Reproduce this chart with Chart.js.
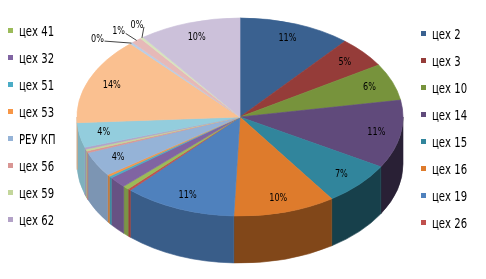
<!DOCTYPE html>
<html>
<head>
<meta charset="utf-8">
<script src="https://cdn.jsdelivr.net/npm/chart.js@4.4.1/dist/chart.umd.min.js"></script>
<style>
  body { margin: 0; background: #fff; }
  #wrap { position: relative; width: 486px; height: 279px; }
  #pie { position: absolute; left: 0; top: 0; }
  .leg { position: absolute; font-family: "DejaVu Sans Condensed", "Liberation Sans Narrow", sans-serif; font-size: 14px; color: #000; }
  .leg div { position: absolute; white-space: nowrap; height: 16px; line-height: 16px; }
  .leg span { display: inline-block; width: 5px; height: 5px; margin-right: 6px; vertical-align: middle; position: relative; top: -1px; }
  .leg i { font-style: normal; display: inline-block; transform: scaleX(0.8); transform-origin: 0 50%; }
</style>
</head>
<body>
<div id="wrap">
  <canvas id="pie" width="486" height="279"></canvas>
  <div class="leg" id="legLeft" style="left:8px; top:0"></div>
  <div class="leg" id="legRight" style="left:421px; top:0"></div>
</div>
<script>
///////////////////////////////// DONNEES

// ordre des secteurs dans le sens horaire depuis midi
const categories = ["цех 2", "цех 3", "цех 10", "цех 14", "цех 15", "цех 16", "цех 19", "цех 26",
                    "цех 41", "цех 32", "цех 51", "цех 53", "РЕУ КП", "цех 56", "цех 59", "цех 62",
                    "цех 63", "цех 64", "цех 65", "цех 66", "цех 67", "цех 68"];
const shares = [11, 5, 6, 11, 7, 10, 11, 0.3,
                0.6, 1.8, 0.3, 0.3, 4, 0.3, 0.3, 0.3,
                4, 14, 0.3, 1, 0.3, 10];
const colors = ["#3A6190", "#953C39", "#77933C", "#604A7B", "#31859C", "#DE7B2C", "#4F81BD", "#C0504D",
                "#9BBB59", "#8064A2", "#4BACC6", "#F79646", "#95B3D7", "#D99694", "#C3D69B", "#B3A2C7",
                "#93CDDD", "#FAC090", "#B9CDE5", "#E6B9B8", "#D7E4BD", "#CCC1DA"];

// secteurs sans étiquette de pourcentage
const noLabel = [7, 8, 9, 10, 11, 13, 14, 15];
// étiquettes placées dehors avec trait de rappel (décalage depuis le bord)
const outside = { 18: [-34, -4], 19: [-18, -9], 20: [-5, -13] };

// légende : 8 à gauche, 8 à droite
const legendLeft = [8, 9, 10, 11, 12, 13, 14, 15];
const legendRight = [0, 1, 2, 3, 4, 5, 6, 7];

///////////////////////////////// GEOMETRIE 3D

const CX = 240, CY = 117, RX = 163, RY = 99, DEPTH = 47;

function shade(hex, k) {
    let r = parseInt(hex.substr(1, 2), 16), g = parseInt(hex.substr(3, 2), 16), b = parseInt(hex.substr(5, 2), 16);
    return "rgb(" + Math.round(r * k) + "," + Math.round(g * k) + "," + Math.round(b * k) + ")";
}

function narrowText(ctx, txt, x, y) {
    ctx.save();
    ctx.translate(x, y);
    ctx.scale(0.82, 1);
    ctx.fillText(txt, 0, 0);
    ctx.restore();
}

const pie3d = {
    id: 'pie3d',
    beforeDatasetsDraw(chart) {
        const ctx = chart.ctx;
        const arcs = chart.getDatasetMeta(0).data;
        //bord visible : demi-ellipse du bas
        arcs.forEach((arc, i) => {
            const s = Math.max(arc.startAngle, 0), e = Math.min(arc.endAngle, Math.PI);
            if (e <= s) return;
            const k = 0.64 - 0.22 * Math.cos((s + e) / 2);
            ctx.beginPath();
            ctx.ellipse(CX, CY, RX, RY, 0, s, e);
            ctx.ellipse(CX, CY + DEPTH, RX, RY, 0, e, s, true);
            ctx.closePath();
            ctx.fillStyle = shade(colors[i], k);
            ctx.strokeStyle = ctx.fillStyle;
            ctx.lineWidth = 0.6;
            ctx.fill();
            ctx.stroke();
        });
        //dessus : le cercle de Chart.js écrasé en ellipse
        const a0 = arcs[0];
        ctx.save();
        ctx.translate(CX, CY);
        ctx.scale(RX / a0.outerRadius, RY / a0.outerRadius);
        ctx.translate(-a0.x, -a0.y);
    },
    afterDatasetsDraw(chart) {
        const ctx = chart.ctx;
        ctx.restore();
        const arcs = chart.getDatasetMeta(0).data;
        const total = shares.reduce((a, b) => a + b, 0);
        ctx.font = '11px "DejaVu Sans Condensed", "Liberation Sans Narrow", sans-serif';
        ctx.fillStyle = "#000";
        ctx.textAlign = "center";
        ctx.textBaseline = "middle";
        arcs.forEach((arc, i) => {
            if (noLabel.includes(i)) return;
            const txt = Math.round(shares[i] / total * 100) + "%";
            const m = (arc.startAngle + arc.endAngle) / 2;
            if (outside[i]) {
                const ex = CX + RX * Math.cos(m), ey = CY + RY * Math.sin(m);
                const lx = ex + outside[i][0], ly = ey + outside[i][1];
                ctx.beginPath();
                ctx.moveTo(ex, ey);
                ctx.lineTo(lx + 7, ly + 2);
                ctx.strokeStyle = "#444";
                ctx.lineWidth = 1;
                ctx.stroke();
                narrowText(ctx, txt, lx, ly);
                return;
            }
            const f = 0.85;
            narrowText(ctx, txt, CX + f * RX * Math.cos(m), CY + f * RY * Math.sin(m));
        });
    }
};

///////////////////////////////// GRAPH

let chart = document.getElementById("pie");
let pieChart = new Chart(chart, {
    type: 'pie',
    data: {
        labels: categories,
        datasets: [
            {
                data: shares,
                backgroundColor: colors,
                borderColor: colors,
                borderWidth: 0.5,
            },
        ]
    },
    options: {
        responsive: false,
        animation: false,
        layout: { padding: { left: 140, right: 146, top: 20, bottom: 61 } },
        plugins: {
            legend: { display: false },
            tooltip: { enabled: false }
        }
    },
    plugins: [pie3d]
});

///////////////////////////////// LEGENDE

function buildLegend(id, list, top0) {
    const box = document.getElementById(id);
    list.forEach((idx, n) => {
        const row = document.createElement('div');
        row.style.top = (top0 + n * 27 - 8) + "px";
        row.innerHTML = '<span style="background:' + colors[idx] + '"></span><i>' + categories[idx] + '</i>';
        box.appendChild(row);
    });
}
buildLegend('legLeft', legendLeft, 30.5);
buildLegend('legRight', legendRight, 33.5);
</script>
</body>
</html>
